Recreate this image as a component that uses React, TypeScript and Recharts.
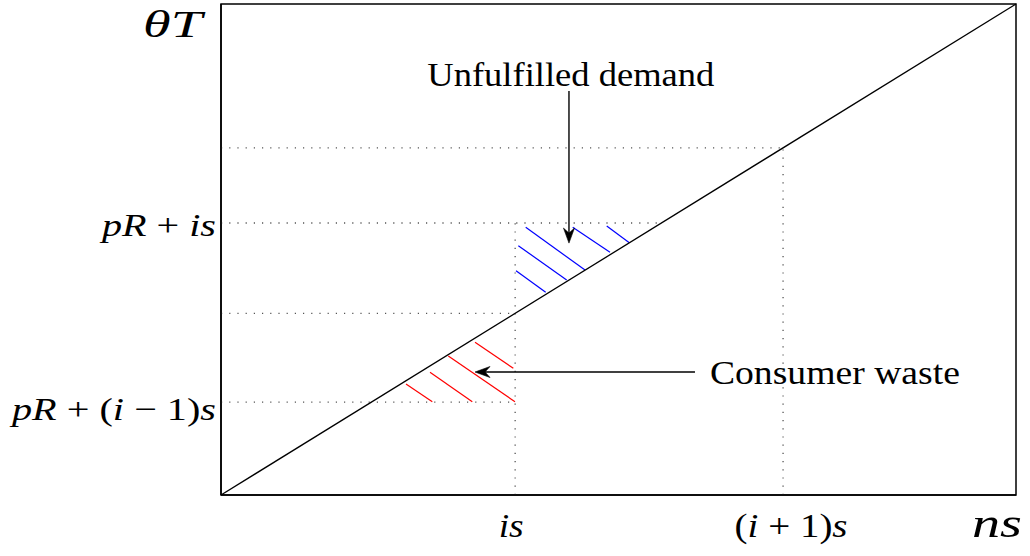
import React from "react";
import {
  ComposedChart,
  Line,
  XAxis,
  YAxis,
  ReferenceLine,
  ReferenceArea,
  ReferenceDot,
} from "recharts";

// ---------- data (normalised units, the diagonal is y = x) ----------
const diagonal = [
  { x: 0, y: 0 },
  { x: 100, y: 100 },
];

const xTickValues = [37.0, 70.7];
const xTickLabels = ["is", "(i + 1)s"];
const yTickValues = [18.9, 55.4];
const yTickLabels = ["pR + (i − 1)s", "pR + is"];

// dotted guides: horizontal at y from x=0 to xEnd ; vertical at x from y=0 to yEnd
const guideH = [
  { y: 18.9, xEnd: 37.0 },
  { y: 37.0, xEnd: 37.0 },
  { y: 55.4, xEnd: 55.4 },
  { y: 70.7, xEnd: 70.7 },
];
const guideV = [
  { x: 37.0, yEnd: 55.4 },
  { x: 70.7, yEnd: 70.7 },
];

// hatch segments [x1, y1, x2, y2]
const blueHatch = [
  [38.33, 54.52, 45.79, 45.82],
  [37.4, 50.77, 43.48, 43.79],
  [37.11, 45.68, 40.84, 41.28],
  [44.24, 54.52, 48.93, 49.43],
  [48.52, 54.79, 51.36, 51.38],
];
const redHatch = [
  [31.95, 31.1, 36.77, 25.8],
  [28.59, 28.31, 36.98, 19.0],
  [26.29, 24.99, 31.61, 19.0],
  [23.27, 22.61, 26.58, 19.0],
];

// annotation arrows [from, to]
const demandArrow = [
  { x: 43.77, y: 82.3 },
  { x: 43.77, y: 51.3 },
];
const wasteArrow = [
  { x: 59.62, y: 25.05 },
  { x: 31.95, y: 25.05 },
];

const demandText = { x: 44.0, y: 83.4, label: "Unfulfilled demand" };
const wasteText = { x: 61.5, y: 22.7, label: "Consumer waste" };

const yAxisTitle = "θT";
const xAxisTitle = "ns";

// ---------- styles ----------
const FONT = "'Liberation Serif', 'Times New Roman', serif";
const labelWidths: Record<string, number> = {
  "is": 25,
  "(i + 1)s": 113,
  "pR + is": 114,
  "pR + (i − 1)s": 204,
  "θT": 59,
  "ns": 50,
  "Unfulfilled demand": 287,
  "Consumer waste": 250,
};
const xLabelShift: Record<string, number> = {
  "is": -4,
  "(i + 1)s": 8,
};

const mathSpans = (label: string) =>
  label.split("").map((ch, i) => {
    const isLetter = /[a-zA-Zθ]/.test(ch);
    return (
      <tspan key={i} fontStyle={isLetter ? "italic" : "normal"}>
        {ch}
      </tspan>
    );
  });

const XTick = (props: any) => {
  const { x, y, payload } = props;
  const idx = xTickValues.indexOf(payload.value);
  const label = xTickLabels[idx] ?? "";
  return (
    <text
      x={x + (xLabelShift[label] ?? 0)}
      y={y + 42}
      textAnchor="middle"
      fontFamily={FONT}
      fontSize={33}
      fill="#000"
      textLength={labelWidths[label]}
      lengthAdjust="spacingAndGlyphs"
    >
      {mathSpans(label)}
    </text>
  );
};

const YTick = (props: any) => {
  const { x, y, payload } = props;
  const idx = yTickValues.indexOf(payload.value);
  const label = yTickLabels[idx] ?? "";
  const w = labelWidths[label];
  const dy = label.includes("(") ? 17.5 : 13.5;
  return (
    <text
      x={x - 5 - w}
      y={y + dy}
      textAnchor="start"
      fontFamily={FONT}
      fontSize={32}
      fill="#000"
      textLength={w}
      lengthAdjust="spacingAndGlyphs"
    >
      {mathSpans(label)}
    </text>
  );
};

const YTitle = (props: any) => {
  const vb = props.viewBox || { x: 0, y: 4, width: 221, height: 491 };
  const w = labelWidths[yAxisTitle];
  return (
    <text
      x={vb.x + vb.width - 19 - w}
      y={vb.y + 33}
      fontFamily={FONT}
      fontSize={38}
      fill="#000"
      textLength={w}
      lengthAdjust="spacingAndGlyphs"
    >
      {mathSpans(yAxisTitle)}
    </text>
  );
};

const XTitle = (props: any) => {
  const vb = props.viewBox || { x: 221, y: 495, width: 795, height: 61 };
  const w = labelWidths[xAxisTitle];
  return (
    <text
      x={vb.x + vb.width + 6 - w}
      y={vb.y + 42}
      fontFamily={FONT}
      fontSize={42}
      fill="#000"
      textLength={w}
      lengthAdjust="spacingAndGlyphs"
    >
      {mathSpans(xAxisTitle)}
    </text>
  );
};

const ArrowShape = (p: any) => {
  const { x1, y1, x2, y2 } = p;
  const dx = x2 - x1;
  const dy = y2 - y1;
  const len = Math.sqrt(dx * dx + dy * dy) || 1;
  const ux = dx / len;
  const uy = dy / len;
  const L = 15;
  const W = 5.5;
  const notch = 10;
  const bx = x2 - ux * L;
  const by = y2 - uy * L;
  const nx = x2 - ux * notch;
  const ny = y2 - uy * notch;
  const px = -uy;
  const py = ux;
  const d = `M ${x2} ${y2} L ${bx + px * W} ${by + py * W} L ${nx} ${ny} L ${bx - px * W} ${by - py * W} Z`;
  return (
    <g>
      <line x1={x1} y1={y1} x2={nx} y2={ny} stroke="#000" strokeWidth={1.4} />
      <path d={d} fill="#000" stroke="#000" strokeWidth={0.6} strokeLinejoin="miter" />
    </g>
  );
};

const AnnotationText = (label: string) => (p: any) => (
  <text
    x={p.cx}
    y={p.cy}
    textAnchor={label === demandText.label ? "middle" : "start"}
    fontFamily={FONT}
    fontSize={34}
    fill="#000"
    textLength={labelWidths[label]}
    lengthAdjust="spacingAndGlyphs"
  >
    {label}
  </text>
);

export default function App() {
  return (
    <div style={{ position: "absolute", left: 0, top: 0, background: "#fff" }}>
      <ComposedChart
        width={1030}
        height={556}
        data={diagonal}
        margin={{ top: 4, right: 14, bottom: 0, left: 0 }}
      >
        <XAxis
          dataKey="x"
          type="number"
          domain={[0, 100]}
          ticks={xTickValues}
          height={61}
          tickLine={false}
          tickSize={0}
          tickMargin={0}
          axisLine={{ stroke: "#000", strokeWidth: 1.5 }}
          tick={<XTick />}
          interval={0}
          label={{ content: <XTitle /> }}
        />
        <YAxis
          type="number"
          domain={[0, 100]}
          ticks={yTickValues}
          width={221}
          tickLine={false}
          tickSize={0}
          tickMargin={0}
          axisLine={{ stroke: "#000", strokeWidth: 1.5 }}
          tick={<YTick />}
          interval={0}
          label={{ content: <YTitle /> }}
        />
        <ReferenceArea
          x1={0}
          x2={100}
          y1={0}
          y2={100}
          fill="none"
          fillOpacity={0}
          stroke="#000"
          strokeWidth={1.5}
        />
        {guideH.map((g, i) => (
          <ReferenceLine
            key={`gh${i}`}
            segment={[
              { x: 0, y: g.y },
              { x: g.xEnd, y: g.y },
            ]}
            stroke="#555"
            strokeWidth={1.3}
            strokeDasharray="1.2 7"
          />
        ))}
        {guideV.map((g, i) => (
          <ReferenceLine
            key={`gv${i}`}
            segment={[
              { x: g.x, y: 0 },
              { x: g.x, y: g.yEnd },
            ]}
            stroke="#555"
            strokeWidth={1.3}
            strokeDasharray="1.2 7"
          />
        ))}
        {blueHatch.map((h, i) => (
          <ReferenceLine
            key={`b${i}`}
            segment={[
              { x: h[0], y: h[1] },
              { x: h[2], y: h[3] },
            ]}
            stroke="#0000ff"
            strokeWidth={1.2}
          />
        ))}
        {redHatch.map((h, i) => (
          <ReferenceLine
            key={`r${i}`}
            segment={[
              { x: h[0], y: h[1] },
              { x: h[2], y: h[3] },
            ]}
            stroke="#ff0000"
            strokeWidth={1.2}
          />
        ))}
        <Line
          dataKey="y"
          type="linear"
          stroke="#000"
          strokeWidth={1.3}
          dot={false}
          activeDot={false}
          isAnimationActive={false}
        />
        <ReferenceLine segment={demandArrow} shape={ArrowShape} />
        <ReferenceLine segment={wasteArrow} shape={ArrowShape} />
        <ReferenceDot
          x={demandText.x}
          y={demandText.y}
          r={0}
          shape={AnnotationText(demandText.label)}
        />
        <ReferenceDot
          x={wasteText.x}
          y={wasteText.y}
          r={0}
          shape={AnnotationText(wasteText.label)}
        />
      </ComposedChart>
    </div>
  );
}
